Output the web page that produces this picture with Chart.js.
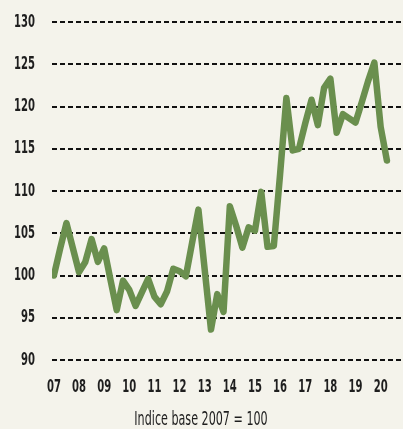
<!DOCTYPE html>
<html>
<head>
<meta charset="utf-8">
<script src="https://cdn.jsdelivr.net/npm/chart.js@4"></script>
<style>
  html, body { margin: 0; padding: 0; background: #f4f3eb; }
  #wrap { width: 403px; height: 429px; position: relative; }
</style>
</head>
<body>
<div id="wrap"><canvas id="c" width="403" height="429"></canvas></div>
<script>
// Year tick labels (one per Q1)
const yearLabels = ["07","08","09","10","11","12","13","14","15","16","17","18","19","20"];
// Quarterly index values, 2007 Q1 .. 2020 Q2
const indexValues = [
  100.0, 103.2, 106.2, 103.3,
  100.4, 101.6, 104.3, 101.6,
  103.2, 99.5, 95.9, 99.4,
  98.3, 96.4, 98.0, 99.6,
  97.5, 96.6, 98.1, 100.8,
  100.5, 99.9, 103.9, 107.8,
  100.7, 93.6, 97.8, 95.7,
  108.2, 105.9, 103.3, 105.7,
  105.3, 109.9, 103.4, 103.5,
  112.0, 121.0, 114.8, 115.0,
  118.0, 120.8, 117.8, 122.2,
  123.3, 116.9, 119.1, 118.6,
  118.1, 120.5, 123.0, 125.2,
  117.6, 113.6
];
const yTicks = [90, 95, 100, 105, 110, 115, 120, 125, 130];
const title = "Indice base 2007 = 100";

const points = indexValues.map((v, i) => ({ x: i, y: v }));
const FONT = "'DejaVu Sans Condensed', 'DejaVu Sans', sans-serif";
const SQUEEZE = 0.62; // narrow display face look

const canvas = document.getElementById('c');
const ctx2d = canvas.getContext('2d');
const nativeFill = CanvasRenderingContext2D.prototype.fillText;
ctx2d.fillText = function (t, x, y) {
  this.save();
  this.translate(x, y);
  this.scale(SQUEEZE, 1);
  nativeFill.call(this, t, 0, 0);
  this.restore();
};

new Chart(canvas, {
  type: 'line',
  data: {
    datasets: [{
      data: points,
      borderColor: '#6a8f4e',
      borderWidth: 6.5,
      pointRadius: 0,
      tension: 0,
      borderJoinStyle: 'round',
      borderCapStyle: 'round',
      fill: false
    }]
  },
  options: {
    responsive: false,
    animation: false,
    layout: { padding: { top: 22, right: 1, left: 0, bottom: 0 } },
    plugins: {
      legend: { display: false },
      tooltip: { enabled: false },
      title: {
        display: true,
        text: title,
        position: 'bottom',
        color: '#1e1e1e',
        font: { family: FONT, size: 20, weight: 'normal', lineHeight: 0.9 },
        padding: { top: 11, bottom: 0 }
      }
    },
    scales: {
      x: {
        type: 'linear',
        min: -0.3,
        max: 55.4,
        afterBuildTicks: (s) => { s.ticks = yearLabels.map((_, i) => ({ value: i * 4 })); },
        afterFit: (s) => { s.height = 40; s.paddingLeft = 0; s.paddingRight = 0; },
        ticks: {
          autoSkip: false,
          maxRotation: 0,
          color: '#1e1e1e',
          font: { family: FONT, size: 18, weight: 'bold' },
          padding: 17,
          callback: (v) => yearLabels[Math.round(v / 4)]
        },
        grid: { display: false, drawTicks: false },
        border: { display: false }
      },
      y: {
        min: 90,
        max: 130,
        afterBuildTicks: (s) => { s.ticks = yTicks.map(v => ({ value: v })); },
        afterFit: (s) => { s.width = 52; s.paddingTop = 0; s.paddingBottom = 0; },
        ticks: {
          color: '#1e1e1e',
          font: { family: FONT, size: 18, weight: 'bold' },
          padding: 17
        },
        grid: {
          color: '#111',
          lineWidth: 2,
          drawTicks: false
        },
        border: { display: false, dash: [5, 3] }
      }
    }
  },
  plugins: [{
    id: 'bg',
    beforeDraw: (chart) => {
      const ctx = chart.ctx;
      ctx.save();
      ctx.fillStyle = '#f4f3eb';
      ctx.fillRect(0, 0, chart.width, chart.height);
      ctx.restore();
    }
  }]
});
</script>
</body>
</html>
